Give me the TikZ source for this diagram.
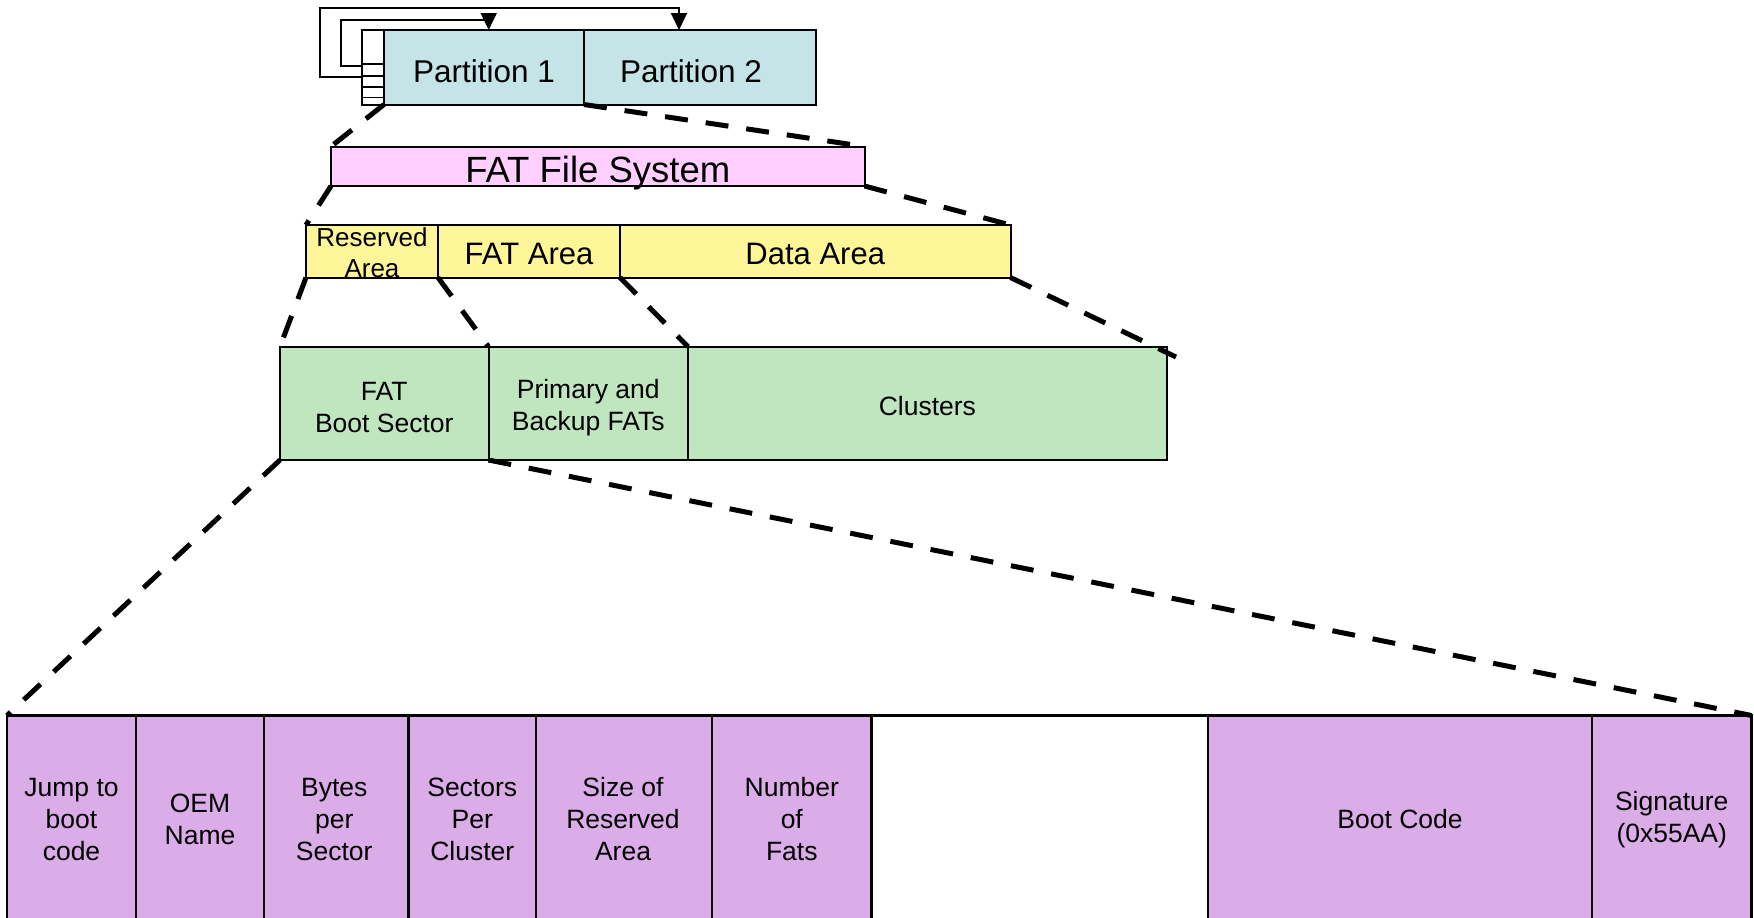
\documentclass[tikz,border=0pt]{standalone}
\usepackage{fontspec}
\setmainfont{Liberation Sans}
\usetikzlibrary{arrows.meta}
\definecolor{partc}{RGB}{196,228,231}
\definecolor{fsc}{RGB}{255,208,255}
\definecolor{yelc}{RGB}{255,245,153}
\definecolor{grnc}{RGB}{191,230,191}
\definecolor{purc}{RGB}{218,172,232}
\newcommand\myfontPart{\fontsize{31.5}{38}\selectfont}
\newcommand\myfontFS{\fontsize{36.5}{42}\selectfont}
\newcommand\myfontYel{\fontsize{31}{37}\selectfont}
\newcommand\myfontRes{\fontsize{26}{31}\selectfont}
\newcommand\myfontGrn{\fontsize{26.5}{32.4}\selectfont}
\newcommand\myfontBot{\fontsize{26.5}{32}\selectfont}
\begin{document}
\begin{tikzpicture}[x=1pt,y=-1pt,
  box/.style={draw, line width=2pt, inner sep=0pt, outer sep=0pt, anchor=north west},
  pbox/.style={box, line width=2.5pt, fill=purc, minimum height=205pt},
  gbox/.style={box, fill=grnc, minimum height=113.3pt},
  ybox/.style={box, fill=yelc, minimum height=52.5pt},
  lbl/.style={align=center, inner sep=0pt, anchor=center},
  zoomline/.style={line width=5pt, dash pattern=on 23pt off 18pt},
  loopline/.style={line width=2pt, -{Triangle[length=17pt,width=16pt]}},
  thinline/.style={line width=1.5pt}
]
\useasboundingbox (0,0) rectangle (1754,918);
\fill[white] (0,0) rectangle (1754,918);

% partitions
\node[box, fill=white, minimum width=22pt, minimum height=74.5pt] (mbr) at (362,30) {};
\node[box, fill=partc, minimum width=200pt, minimum height=74.5pt] (p1) at (384,30) {};
\node[box, fill=partc, minimum width=232pt, minimum height=74.5pt] (p2) at (584,30) {};
\node[lbl, font=\myfontPart] (p1t) at ([yshift=-4pt]p1.center) {Partition 1};
\node[lbl, font=\myfontPart] (p2t) at ([xshift=-9pt,yshift=-4pt]p2.center) {Partition 2};
\foreach \yy in {64,76,87,97.5}
  \draw[thinline] (mbr.west |- 0,\yy) -- (mbr.east |- 0,\yy);
\draw[loopline] (mbr.west |- 0,77) -| (319.6,7.6) -| (679,0 |- p2.north);
\draw[loopline] (mbr.west |- 0,65.5) -| (341.3,19.6) -| (488.7,0 |- p1.north);

% FAT file system
\node[box, fill=fsc, minimum width=533.5pt, minimum height=39.5pt] (fs) at (331,146.5) {};
\node[lbl, font=\myfontFS] (fst) at ([yshift=-6.5pt]fs.center) {FAT File System};

% yellow row
\node[ybox, minimum width=132pt] (res) at (306,225) {};
\node[ybox, minimum width=182pt] (fat) at (438,225) {};
\node[ybox, minimum width=390.5pt] (data) at (620,225) {};
\node[lbl, font=\myfontRes] (rest) at ([yshift=-1.5pt]res.center) {Reserved\\Area};
\node[lbl, font=\myfontYel] (fatt) at ([yshift=-3pt]fat.center) {FAT Area};
\node[lbl, font=\myfontYel] (datat) at ([yshift=-3pt]data.center) {Data Area};

% green row
\node[gbox, minimum width=208.5pt] (bs) at (280,346.7) {};
\node[gbox, minimum width=199.5pt] (pfat) at (488.5,346.7) {};
\node[gbox, minimum width=478.7pt] (clu) at (688,346.7) {};
\node[lbl, font=\myfontGrn] (bst) at ([yshift=-4pt]bs.center) {FAT\\Boot Sector};
\node[lbl, font=\myfontGrn] (pfatt) at ([yshift=-4pt]pfat.center) {Primary and\\Backup FATs};
\node[lbl, font=\myfontGrn] (clut) at ([yshift=-3pt]clu.center) {Clusters};

% bottom row
\node[pbox, minimum width=129pt] (jump) at (7,715.5) {};
\node[pbox, minimum width=128pt] (oem) at (136,715.5) {};
\node[pbox, minimum width=144.5pt] (bps) at (264,715.5) {};
\node[pbox, minimum width=127.5pt] (spc) at (408.5,715.5) {};
\node[pbox, minimum width=176pt] (sra) at (536,715.5) {};
\node[pbox, minimum width=159.6pt] (nf) at (712,715.5) {};
\node[pbox, fill=white, minimum width=336.4pt] (gap) at (871.6,715.5) {};
\node[pbox, minimum width=384pt] (bc) at (1208,715.5) {};
\node[pbox, minimum width=159.5pt] (sig) at (1592,715.5) {};
\node[lbl, font=\myfontBot] (jumpt) at ([yshift=-1.5pt]jump.center) {Jump to\\boot\\code};
\node[lbl, font=\myfontBot] (oemt) at ([yshift=-1.5pt]oem.center) {OEM\\Name};
\node[lbl, font=\myfontBot] (bpst) at ([xshift=-2pt,yshift=-1.5pt]bps.center) {Bytes\\per\\Sector};
\node[lbl, font=\myfontBot] (spct) at ([yshift=-1.5pt]spc.center) {Sectors\\Per\\Cluster};
\node[lbl, font=\myfontBot] (srat) at ([xshift=-1pt,yshift=-1.5pt]sra.center) {Size of\\Reserved\\Area};
\node[lbl, font=\myfontBot] (nft) at ([yshift=-1.5pt]nf.center) {Number\\of\\Fats};
\node[lbl, font=\myfontBot] (bct) at ([yshift=-1.5pt]bc.center) {Boot Code};
\node[lbl, font=\myfontBot] (sigt) at ([yshift=-1.5pt]sig.center) {Signature\\(0x55AA)};

% zoom connectors
\coordinate (dend) at (1176,357);
\draw[zoomline] (p1.south west) -- (fs.north west);
\draw[zoomline] (p1.south east) -- (fs.north east);
\draw[zoomline] (fs.south west) -- (res.north west);
\draw[zoomline] (fs.south east) -- (data.north east);
\draw[zoomline] (res.south west) -- (bs.north west);
\draw[zoomline] (res.south east) -- (pfat.north west);
\draw[zoomline] (fat.south east) -- (pfat.north east);
\draw[zoomline] (data.south east) -- (dend);
\draw[zoomline] (bs.south west) -- (jump.north west);
\draw[zoomline] (bs.south east) -- (sig.north east);
\end{tikzpicture}
\end{document}
